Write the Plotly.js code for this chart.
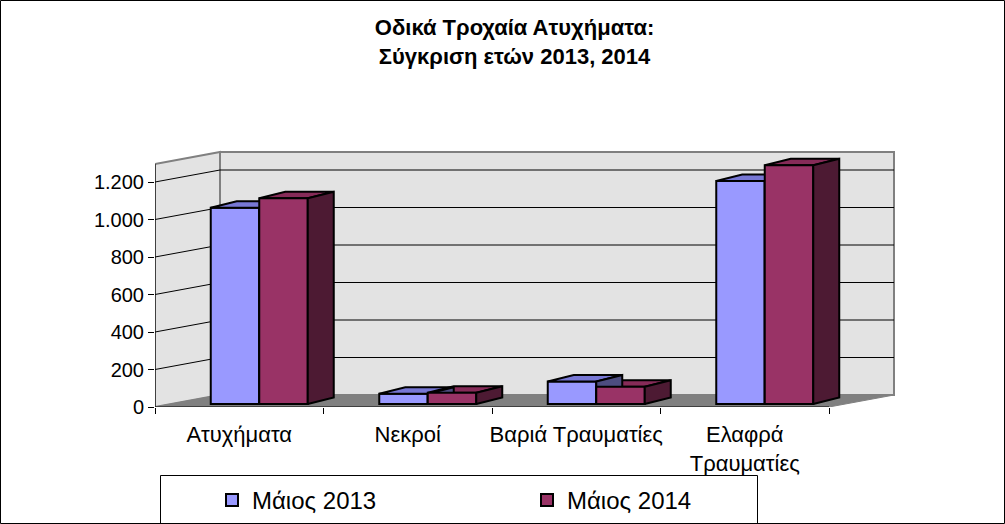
<!DOCTYPE html>
<html>
<head>
<meta charset="utf-8">
<script src="https://cdn.plot.ly/plotly-3.0.1.min.js"></script>
<style>
html,body{margin:0;padding:0;background:#fff;}
#chart{width:1005px;height:524px;}
</style>
</head>
<body>
<div id="chart"></div>
<script>
// ---- data ----
const categories = ['Ατυχήματα', 'Νεκροί', 'Βαριά Τραυματίες', 'Ελαφρά<br>Τραυματίες'];
const may2013 = [1047, 55, 120, 1189];
const may2014 = [1097, 60, 92, 1273];
const seriesNames = ['Μάιος 2013', 'Μάιος 2014'];
const yTickVals = [0, 200, 400, 600, 800, 1000, 1200];
const yTickText = ['0', '200', '400', '600', '800', '1.000', '1.200'];
const titleText = '<b>Οδικά Τροχαία Ατυχήματα:<br>Σύγκριση ετών 2013, 2014</b>';

// ---- geometry (pixels -> axis units) ----
const FIG_W = 1005, FIG_H = 524;
const M = {l: 155, r: 105, t: 150, b: 117};
const PW = FIG_W - M.l - M.r, PH = FIG_H - M.t - M.b;
const CAT_PX = 168.5, UNIT_PX = 0.1875;
const xRange = [-0.5, -0.5 + PW / CAT_PX];
const yRange = [0, PH / UNIT_PX];
const BAR_LIFT = 3 / UNIT_PX;
const barRange = [-BAR_LIFT, yRange[1] - BAR_LIFT];
const WDX = 65 / CAT_PX, WDY = 12 / UNIT_PX, WALL_TOP = 255 / UNIT_PX;
const BW = 48.5 / CAT_PX, OFF13 = -28.5 / CAT_PX, OFF14 = OFF13 + BW;
const BDX = 26 / CAT_PX, BDY = 6.5 / UNIT_PX;
const X0 = -0.5, X1 = -0.5 + categories.length;
const catIdx = categories.map((c, i) => i);
const boundaries = categories.map((c, i) => i - 0.5).concat([X1]);
const xp = px => (px - M.l) / PW;
const yp = py => (FIG_H - M.b - py) / PH;

const C13 = '#9999FF', C13top = '#7777D4', C13side = '#4D4D80';
const C14 = '#993366', C14top = '#862B58', C14side = '#4D1A33';

function polys(list) {
  const x = [], y = [];
  list.forEach(p => { p.forEach(q => { x.push(q[0]); y.push(q[1]); }); x.push(p[0][0]); y.push(p[0][1]); x.push(null); y.push(null); });
  return {x, y};
}
function faceTrace(list, color, yaxis) {
  const d = polys(list);
  return {type: 'scatter', mode: 'lines', x: d.x, y: d.y, fill: 'toself', fillcolor: color,
    line: {color: '#000', width: 2}, xaxis: 'x', yaxis: yaxis, showlegend: false, hoverinfo: 'skip'};
}
const tops = (vals, off) => vals.map((v, i) => {
  const L = i + off;
  return [[L, v], [L + BW, v], [L + BW + BDX, v + BDY], [L + BDX, v + BDY]];
});
const sides = (vals, off) => vals.map((v, i) => {
  const R = i + off + BW;
  return [[R, 0], [R, v], [R + BDX, v + BDY], [R + BDX, BDY]];
});

// walls & floor
const backWall = [[X0 + WDX, WDY], [X1 + WDX, WDY], [X1 + WDX, WALL_TOP], [X0 + WDX, WALL_TOP]];
const leftWall = [[X0, 0], [X0 + WDX, WDY], [X0 + WDX, WALL_TOP], [X0, WALL_TOP - WDY]];
const floor = [[X0, 0], [X1, 0], [X1 + WDX, WDY], [X0 + WDX, WDY]];
const wallsD = polys([backWall, leftWall]);
const floorD = polys([floor]);
const gx = [], gy = [];
yTickVals.filter(t => t > 0).forEach(t => {
  gx.push(X0, X0 + WDX, X1 + WDX, null); gy.push(t, t + WDY, t + WDY, null);
});

const traces = [
  {type: 'scatter', mode: 'lines', x: wallsD.x, y: wallsD.y, fill: 'toself', fillcolor: '#E3E3E3',
   line: {color: '#808080', width: 2}, showlegend: false, hoverinfo: 'skip'},
  {type: 'scatter', mode: 'lines', x: floorD.x, y: floorD.y, fill: 'toself', fillcolor: '#808080',
   line: {color: '#808080', width: 1}, showlegend: false, hoverinfo: 'skip'},
  {type: 'scatter', mode: 'lines', x: gx, y: gy, line: {color: '#000', width: 1}, showlegend: false, hoverinfo: 'skip'},
  // series 2013
  {type: 'bar', name: seriesNames[0], x: catIdx, y: may2013, offset: OFF13, width: BW,
   marker: {color: C13, line: {color: '#000', width: 2}}, xaxis: 'x', yaxis: 'y2'},
  faceTrace(tops(may2013, OFF13), C13top, 'y2'),
  faceTrace(tops(may2014, OFF14), C14top, 'y3'),
  faceTrace(sides(may2013, OFF13), C13side, 'y3'),
  // series 2014
  {type: 'bar', name: seriesNames[1], x: catIdx, y: may2014, offset: OFF14, width: BW,
   marker: {color: C14, line: {color: '#000', width: 2}}, xaxis: 'x', yaxis: 'y4'},
  faceTrace(sides(may2014, OFF14), C14side, 'y4'),
  // axis lines (on the boundary-tick axis)
  {type: 'scatter', mode: 'lines', x: [X0, X0, null, X0, X1], y: [WALL_TOP - WDY, 0, null, 0, 0],
   line: {color: '#000', width: 1}, xaxis: 'x2', yaxis: 'y', showlegend: false, hoverinfo: 'skip'}
];

const font = {family: 'Liberation Sans, Arial, sans-serif', color: '#000'};
const hiddenY = {overlaying: 'y', range: barRange, visible: false, fixedrange: true};
const layout = {
  width: FIG_W, height: FIG_H,
  margin: {l: M.l, r: M.r, t: M.t, b: M.b, autoexpand: false},
  paper_bgcolor: '#fff', plot_bgcolor: 'rgba(0,0,0,0)',
  font: Object.assign({size: 19}, font),
  barmode: 'overlay',
  title: {text: titleText, font: Object.assign({size: 22}, font), x: 0.512, xref: 'container',
          y: 1 - 35 / FIG_H, yref: 'container', yanchor: 'top'},
  xaxis: {range: xRange, tickmode: 'array', tickvals: catIdx, ticktext: categories, ticks: '',
          showgrid: false, zeroline: false, showline: false, ticklabelstandoff: 12,
          tickfont: Object.assign({size: 22}, font), fixedrange: true},
  xaxis2: {overlaying: 'x', anchor: 'y', side: 'bottom', range: xRange, tickmode: 'array', tickvals: boundaries,
           ticks: 'outside', ticklen: 6, tickcolor: '#000', tickwidth: 1, showticklabels: false,
           showgrid: false, zeroline: false, showline: false, fixedrange: true},
  yaxis: {range: yRange, tickmode: 'array', tickvals: yTickVals, ticktext: yTickText,
          ticks: 'outside', ticklen: 6, tickcolor: '#000', tickwidth: 1,
          showgrid: false, zeroline: false, showline: false,
          tickfont: Object.assign({size: 20}, font), fixedrange: true},
  yaxis2: hiddenY, yaxis3: Object.assign({}, hiddenY), yaxis4: Object.assign({}, hiddenY),
  showlegend: true,
  legend: {orientation: 'h', x: xp(212), y: yp(478), xanchor: 'left', yanchor: 'top',
           entrywidth: 270, entrywidthmode: 'pixels', bgcolor: 'rgba(0,0,0,0)', borderwidth: 0,
           font: Object.assign({size: 24}, font), traceorder: 'normal'},
  shapes: [
    {type: 'rect', xref: 'paper', yref: 'paper', x0: xp(0.5), x1: xp(FIG_W - 0.5), y0: yp(FIG_H - 0.5), y1: yp(0.5),
     line: {color: '#000', width: 1}, fillcolor: 'rgba(0,0,0,0)', layer: 'above'},
    {type: 'rect', xref: 'paper', yref: 'paper', x0: xp(160.5), x1: xp(757.5), y0: yp(530), y1: yp(475.5),
     line: {color: '#000', width: 1}, fillcolor: 'rgba(0,0,0,0)', layer: 'above'}
  ]
};

Plotly.newPlot('chart', traces, layout, {displayModeBar: false, staticPlot: true});
</script>
</body>
</html>
